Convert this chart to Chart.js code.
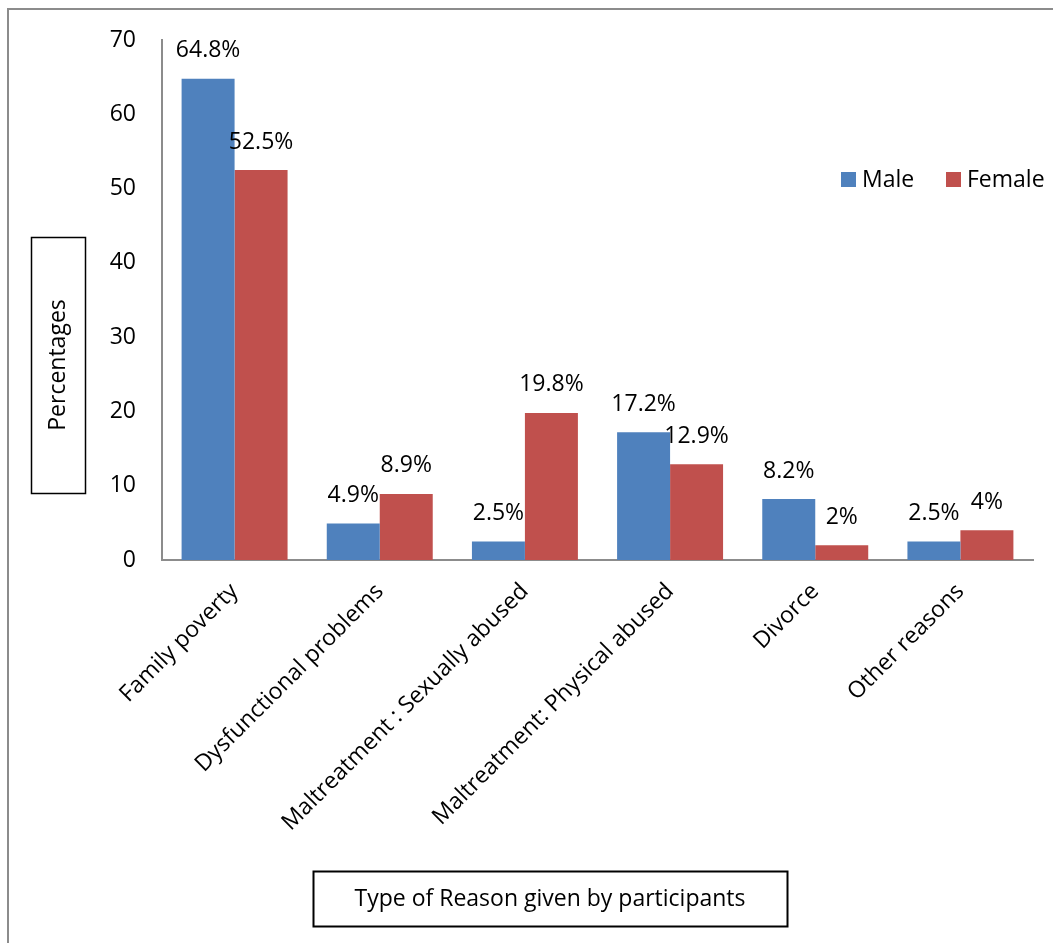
<!DOCTYPE html>
<html>
<head>
<meta charset="utf-8">
<style>
  html, body { margin: 0; padding: 0; background: #ffffff; }
  #wrap { width: 1053px; height: 943px; position: relative; }
</style>
<script src="https://cdn.jsdelivr.net/npm/chart.js@4/dist/chart.umd.min.js"></script>
</head>
<body>
<div id="wrap"><canvas id="chart" width="1053" height="943"></canvas></div>
<script>
// Reasons and the share of male / female participants giving each one (%)
const categories = [
  "Family poverty",
  "Dysfunctional problems",
  "Maltreatment : Sexually abused",
  "Maltreatment: Physical abused",
  "Divorce",
  "Other reasons"
];
const maleValues = [64.8, 4.9, 2.5, 17.2, 8.2, 2.5];
const femaleValues = [52.5, 8.9, 19.8, 12.9, 2, 4];
const seriesNames = ["Male", "Female"];
const yTicks = [0, 10, 20, 30, 40, 50, 60, 70];
const yTitle = "Percentages";
const xTitle = "Type of Reason given by participants";

const FONT = "'Open Sans', 'Noto Sans', sans-serif";
const FSIZE = 23;
const BLUE = "#4F81BD";
const RED = "#C0504D";

// Value labels above each bar
const valueLabels = {
  id: "valueLabels",
  afterDatasetsDraw(chart) {
    const ctx = chart.ctx;
    ctx.save();
    ctx.font = FSIZE + "px " + FONT;
    ctx.fillStyle = "#000";
    ctx.textAlign = "center";
    ctx.textBaseline = "middle";
    chart.data.datasets.forEach((ds, i) => {
      chart.getDatasetMeta(i).data.forEach((bar, j) => {
        ctx.fillText(ds.data[j] + "%", bar.x, bar.y - 28);
      });
    });
    ctx.restore();
  }
};

// Frame, boxed axis titles and the legend
const decorations = {
  id: "decorations",
  afterDraw(chart) {
    const ctx = chart.ctx;
    ctx.save();
    // outer frame
    ctx.strokeStyle = "#8c8c8c";
    ctx.lineWidth = 2;
    ctx.beginPath();
    ctx.moveTo(8, 960);
    ctx.lineTo(8, 9);
    ctx.lineTo(1070, 9);
    ctx.stroke();

    // y-axis title box
    ctx.strokeStyle = "#000";
    ctx.lineWidth = 1.5;
    ctx.strokeRect(31.5, 237.5, 54, 256);
    ctx.fillStyle = "#000";
    ctx.font = FSIZE + "px " + FONT;
    ctx.textAlign = "center";
    ctx.textBaseline = "middle";
    ctx.save();
    ctx.translate(58.5, 365);
    ctx.rotate(-Math.PI / 2);
    ctx.fillText(yTitle, 0, 0);
    ctx.restore();

    // x-axis title box
    ctx.lineWidth = 2;
    ctx.strokeRect(313.5, 871.5, 474, 55);
    ctx.fillText(xTitle, 550, 899);

    // legend
    const colors = chart.data.datasets.map(d => d.backgroundColor);
    const items = [
      { x: 841, text: seriesNames[0], color: colors[0] },
      { x: 946, text: seriesNames[1], color: colors[1] }
    ];
    ctx.textAlign = "left";
    items.forEach(it => {
      ctx.fillStyle = it.color;
      ctx.fillRect(it.x, 172, 15, 15);
      ctx.fillStyle = "#000";
      ctx.fillText(it.text, it.x + 21, 180);
    });
    ctx.restore();
  }
};

new Chart(document.getElementById("chart"), {
  type: "bar",
  data: {
    labels: categories,
    datasets: [
      { label: seriesNames[0], data: maleValues, backgroundColor: BLUE, borderWidth: 0 },
      { label: seriesNames[1], data: femaleValues, backgroundColor: RED, borderWidth: 0 }
    ]
  },
  options: {
    responsive: false,
    animation: false,
    events: [],
    layout: { padding: { left: 0, top: 40, right: 20, bottom: 0 } },
    plugins: {
      legend: { display: false },
      tooltip: { enabled: false },
      title: { display: false }
    },
    datasets: {
      bar: { categoryPercentage: 0.73, barPercentage: 1.0 }
    },
    scales: {
      x: {
        grid: { display: false, drawTicks: false },
        border: { display: true, color: "#8c8c8c", width: 2 },
        ticks: {
          color: "#000",
          font: { family: FONT, size: FSIZE },
          minRotation: 45,
          maxRotation: 45,
          padding: 18,
          autoSkip: false
        },
        afterFit(scale) { scale.height = 383; }
      },
      y: {
        min: 0,
        max: 70,
        afterBuildTicks(scale) { scale.ticks = yTicks.map(v => ({ value: v })); },
        grid: { display: false, drawTicks: false },
        border: { display: true, color: "#8c8c8c", width: 2 },
        ticks: {
          color: "#000",
          font: { family: FONT, size: FSIZE },
          padding: 26
        },
        afterFit(scale) { scale.width = 162; }
      }
    }
  },
  plugins: [valueLabels, decorations]
});
</script>
</body>
</html>
